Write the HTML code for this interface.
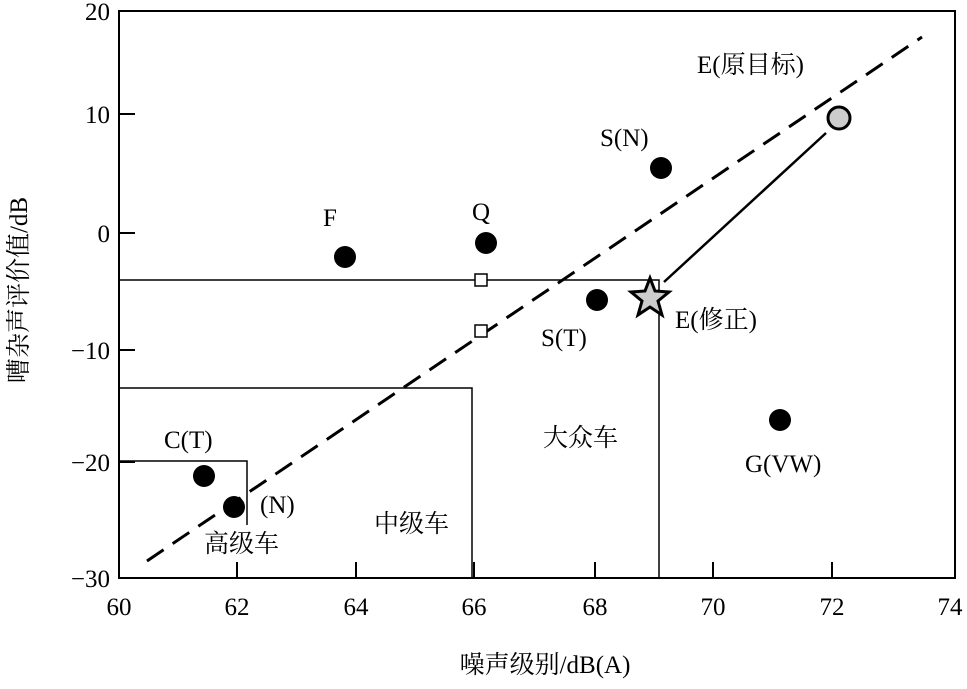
<!DOCTYPE html>
<html><head><meta charset="utf-8"><style>
body{margin:0;background:#fff}
text{font-family:"Liberation Serif","Noto Serif CJK SC",serif;font-size:25px;fill:#000}
</style></head><body>
<svg width="967" height="684" xmlns="http://www.w3.org/2000/svg">
<rect x="119" y="11" width="836" height="567" fill="none" stroke="#000" stroke-width="2"/>
<g stroke="#000" stroke-width="2">
<line x1="119" y1="114" x2="135" y2="114"/><line x1="119" y1="233" x2="135" y2="233"/>
<line x1="119" y1="350" x2="135" y2="350"/><line x1="119" y1="462" x2="135" y2="462"/>
<line x1="237" y1="578" x2="237" y2="562"/><line x1="356" y1="578" x2="356" y2="562"/>
<line x1="474" y1="578" x2="474" y2="562"/><line x1="595" y1="578" x2="595" y2="562"/>
<line x1="713" y1="578" x2="713" y2="562"/><line x1="832" y1="578" x2="832" y2="562"/>
</g>
<g fill="none" stroke="#000" stroke-width="1.5">
<polyline points="119,280 659,280 659,578"/>
<polyline points="119,388 472,388 472,578"/>
<polyline points="119,461 247,461 247,525"/>
</g>
<line x1="147" y1="561" x2="922" y2="37" stroke="#000" stroke-width="3" stroke-dasharray="20,11"/>
<line x1="664" y1="282" x2="826" y2="133" stroke="#000" stroke-width="2.5"/>
<circle cx="839" cy="118" r="11" fill="#ccc" stroke="#000" stroke-width="3"/>
<rect x="475" y="274" width="12" height="12" fill="#fff" stroke="#000" stroke-width="1.5"/>
<rect x="475" y="325" width="12" height="12" fill="#fff" stroke="#000" stroke-width="1.5"/>
<g fill="#000">
<circle cx="345" cy="257" r="11"/><circle cx="486" cy="243" r="11"/>
<circle cx="661" cy="168" r="11"/><circle cx="597" cy="300" r="11"/>
<circle cx="204" cy="476" r="11"/><circle cx="234" cy="507" r="11"/>
<circle cx="780" cy="420" r="11"/>
</g>
<polygon points="650,278 655,291 669,292 658,301 662,315 650,307 638,315 642,301 631,292 645,291" fill="#ccc" stroke="#000" stroke-width="3" stroke-linejoin="miter"/>
<text x="697" y="73">E(原目标)</text>
<text x="600" y="146">S(N)</text>
<text x="323" y="226">F</text>
<text x="472" y="220">Q</text>
<text x="541" y="346">S(T)</text>
<text x="675" y="328">E(修正)</text>
<text x="543" y="446">大众车</text>
<text x="745" y="472">G(VW)</text>
<text x="164" y="448">C(T)</text>
<text x="260" y="513">(N)</text>
<text x="204" y="552">高级车</text>
<text x="374" y="532">中级车</text>
<g text-anchor="end">
<text x="110" y="20">20</text><text x="110" y="123">10</text><text x="110" y="242">0</text>
<text x="110" y="359">−10</text><text x="110" y="471">−20</text><text x="110" y="587">−30</text>
</g>
<g text-anchor="middle">
<text x="119" y="615">60</text><text x="237" y="615">62</text><text x="356" y="615">64</text>
<text x="474" y="615">66</text><text x="595" y="615">68</text><text x="713" y="615">70</text>
<text x="832" y="615">72</text><text x="950" y="615">74</text>
<text x="545" y="673">噪声级别/dB(A)</text>
<text transform="translate(27,290) rotate(-90)">嘈杂声评价值/dB</text>
</g>
</svg>
</body></html>
